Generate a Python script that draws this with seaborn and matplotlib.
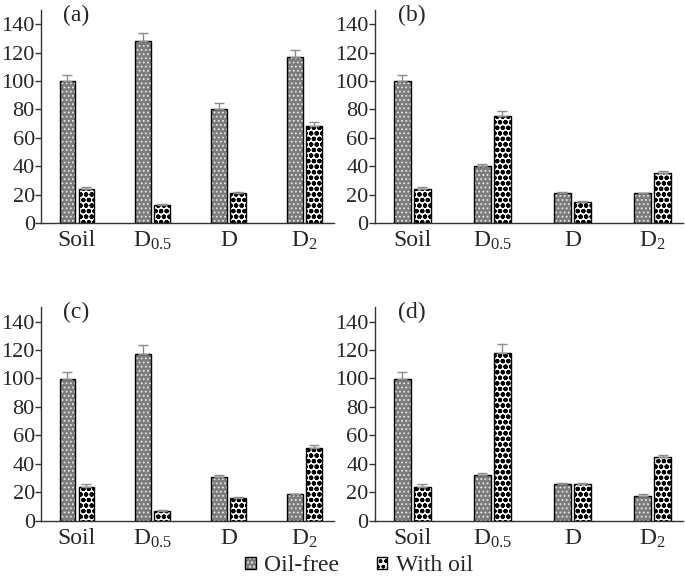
import matplotlib

matplotlib.use("Agg")
import matplotlib.pyplot as plt
import matplotlib.patches as mpatches
import numpy as np
import pandas as pd
import seaborn as sns

categories = ["Soil", r"D$\mathregular{_{0.5}}$", "D", r"D$\mathregular{_{2}}$"]
series = ["Oil-free", "With oil"]
panels = ["(a)", "(b)", "(c)", "(d)"]

oil_free = {
    "(a)": [100, 128, 80.5, 116.5],
    "(b)": [100, 40, 21.5, 21],
    "(c)": [99.5, 117.5, 30.5, 18.5],
    "(d)": [99.5, 32, 25.5, 17],
}
oil_free_err = {
    "(a)": [4.5, 6, 4, 5.5],
    "(b)": [4.5, 1.5, 0.5, 0.5],
    "(c)": [5, 6, 1.5, 0.5],
    "(d)": [5, 1.5, 1, 1.5],
}
with_oil = {
    "(a)": [24, 13, 21, 68],
    "(b)": [24, 75, 15, 35],
    "(c)": [23.5, 7, 16, 51],
    "(d)": [23.5, 118, 26, 44.5],
}
with_oil_err = {
    "(a)": [1.5, 0.5, 1, 3],
    "(b)": [1.5, 4, 0.5, 1.5],
    "(c)": [2, 0.5, 0.5, 2.5],
    "(d)": [2, 6, 0.5, 1.5],
}

sns.set_theme(style="ticks")
plt.rcParams["font.family"] = "serif"
plt.rcParams["font.serif"] = ["Liberation Serif", "DejaVu Serif"]
plt.rcParams["mathtext.fontset"] = "custom"
plt.rcParams["mathtext.rm"] = "Liberation Serif"

STYLE = {
    "Oil-free": dict(face="#7c7c7c", hatch="....", hatch_color="#e6e6e6", hlw=0.8),
    "With oil": dict(face="white", hatch="ooo", hatch_color="black", hlw=1.5),
}


def style_patch(p, name):
    st = STYLE[name]
    p.set_facecolor(st["face"])
    p.set_hatch(st["hatch"])
    p.set_edgecolor("black")
    p.set_linewidth(1.0)
    # keep the black outline but give the hatch its own colour / width
    p._hatch_color = matplotlib.colors.to_rgba(st["hatch_color"])
    p._hatch_linewidth = st["hlw"]


fig = plt.figure(figsize=(6.85, 5.81), dpi=100)
positions = [
    [0.060, 0.616, 0.427, 0.367],
    [0.547, 0.616, 0.450, 0.367],
    [0.060, 0.104, 0.427, 0.367],
    [0.547, 0.104, 0.450, 0.367],
]

for panel, pos in zip(panels, positions):
    ax = fig.add_axes(pos)
    df = pd.DataFrame(
        {
            "cat": categories * 2,
            "series": [series[0]] * 4 + [series[1]] * 4,
            "value": oil_free[panel] + with_oil[panel],
        }
    )
    sns.barplot(
        data=df, x="cat", y="value", hue="series", hue_order=series,
        errorbar=None, width=0.5, gap=0.18, ax=ax, legend=False,
    )
    for cont, name in zip(ax.containers, series):
        errs = oil_free_err[panel] if name == "Oil-free" else with_oil_err[panel]
        xs, ys = [], []
        for p in cont:
            style_patch(p, name)
            xs.append(p.get_x() + p.get_width() / 2)
            ys.append(p.get_height())
        ax.errorbar(
            xs, ys, yerr=[np.zeros(len(errs)), errs], fmt="none",
            ecolor="#8c8c8c", elinewidth=1.0, capsize=3.5, capthick=1.0, zorder=1,
        )
    ax.set_ylim(0, 150)
    ax.set_xlim(-0.47, 3.38)
    ax.set_yticks(range(0, 141, 20))
    ax.set_xlabel("")
    ax.set_ylabel("")
    ax.tick_params(axis="y", labelsize=16, length=4, width=1, pad=0.5, color="#333333")
    ax.tick_params(axis="x", labelsize=17, length=0, pad=5)
    for s in ["top", "right"]:
        ax.spines[s].set_visible(False)
    for s in ["left", "bottom"]:
        ax.spines[s].set_linewidth(1.0)
        ax.spines[s].set_color("#333333")
    ax.text(0.075, 0.975, panel, transform=ax.transAxes, fontsize=17,
            ha="left", va="center")

handles = []
for name in series:
    h = mpatches.Patch(label=name)
    style_patch(h, name)
    handles.append(h)
fig.legend(handles=handles, loc="center", bbox_to_anchor=(0.524, 0.026),
           ncol=2, frameon=False, fontsize=17, handlelength=0.45, handleheight=0.45,
           handletextpad=0.35, columnspacing=1.6, borderpad=0.0)

fig.savefig("out.png", dpi=100)
